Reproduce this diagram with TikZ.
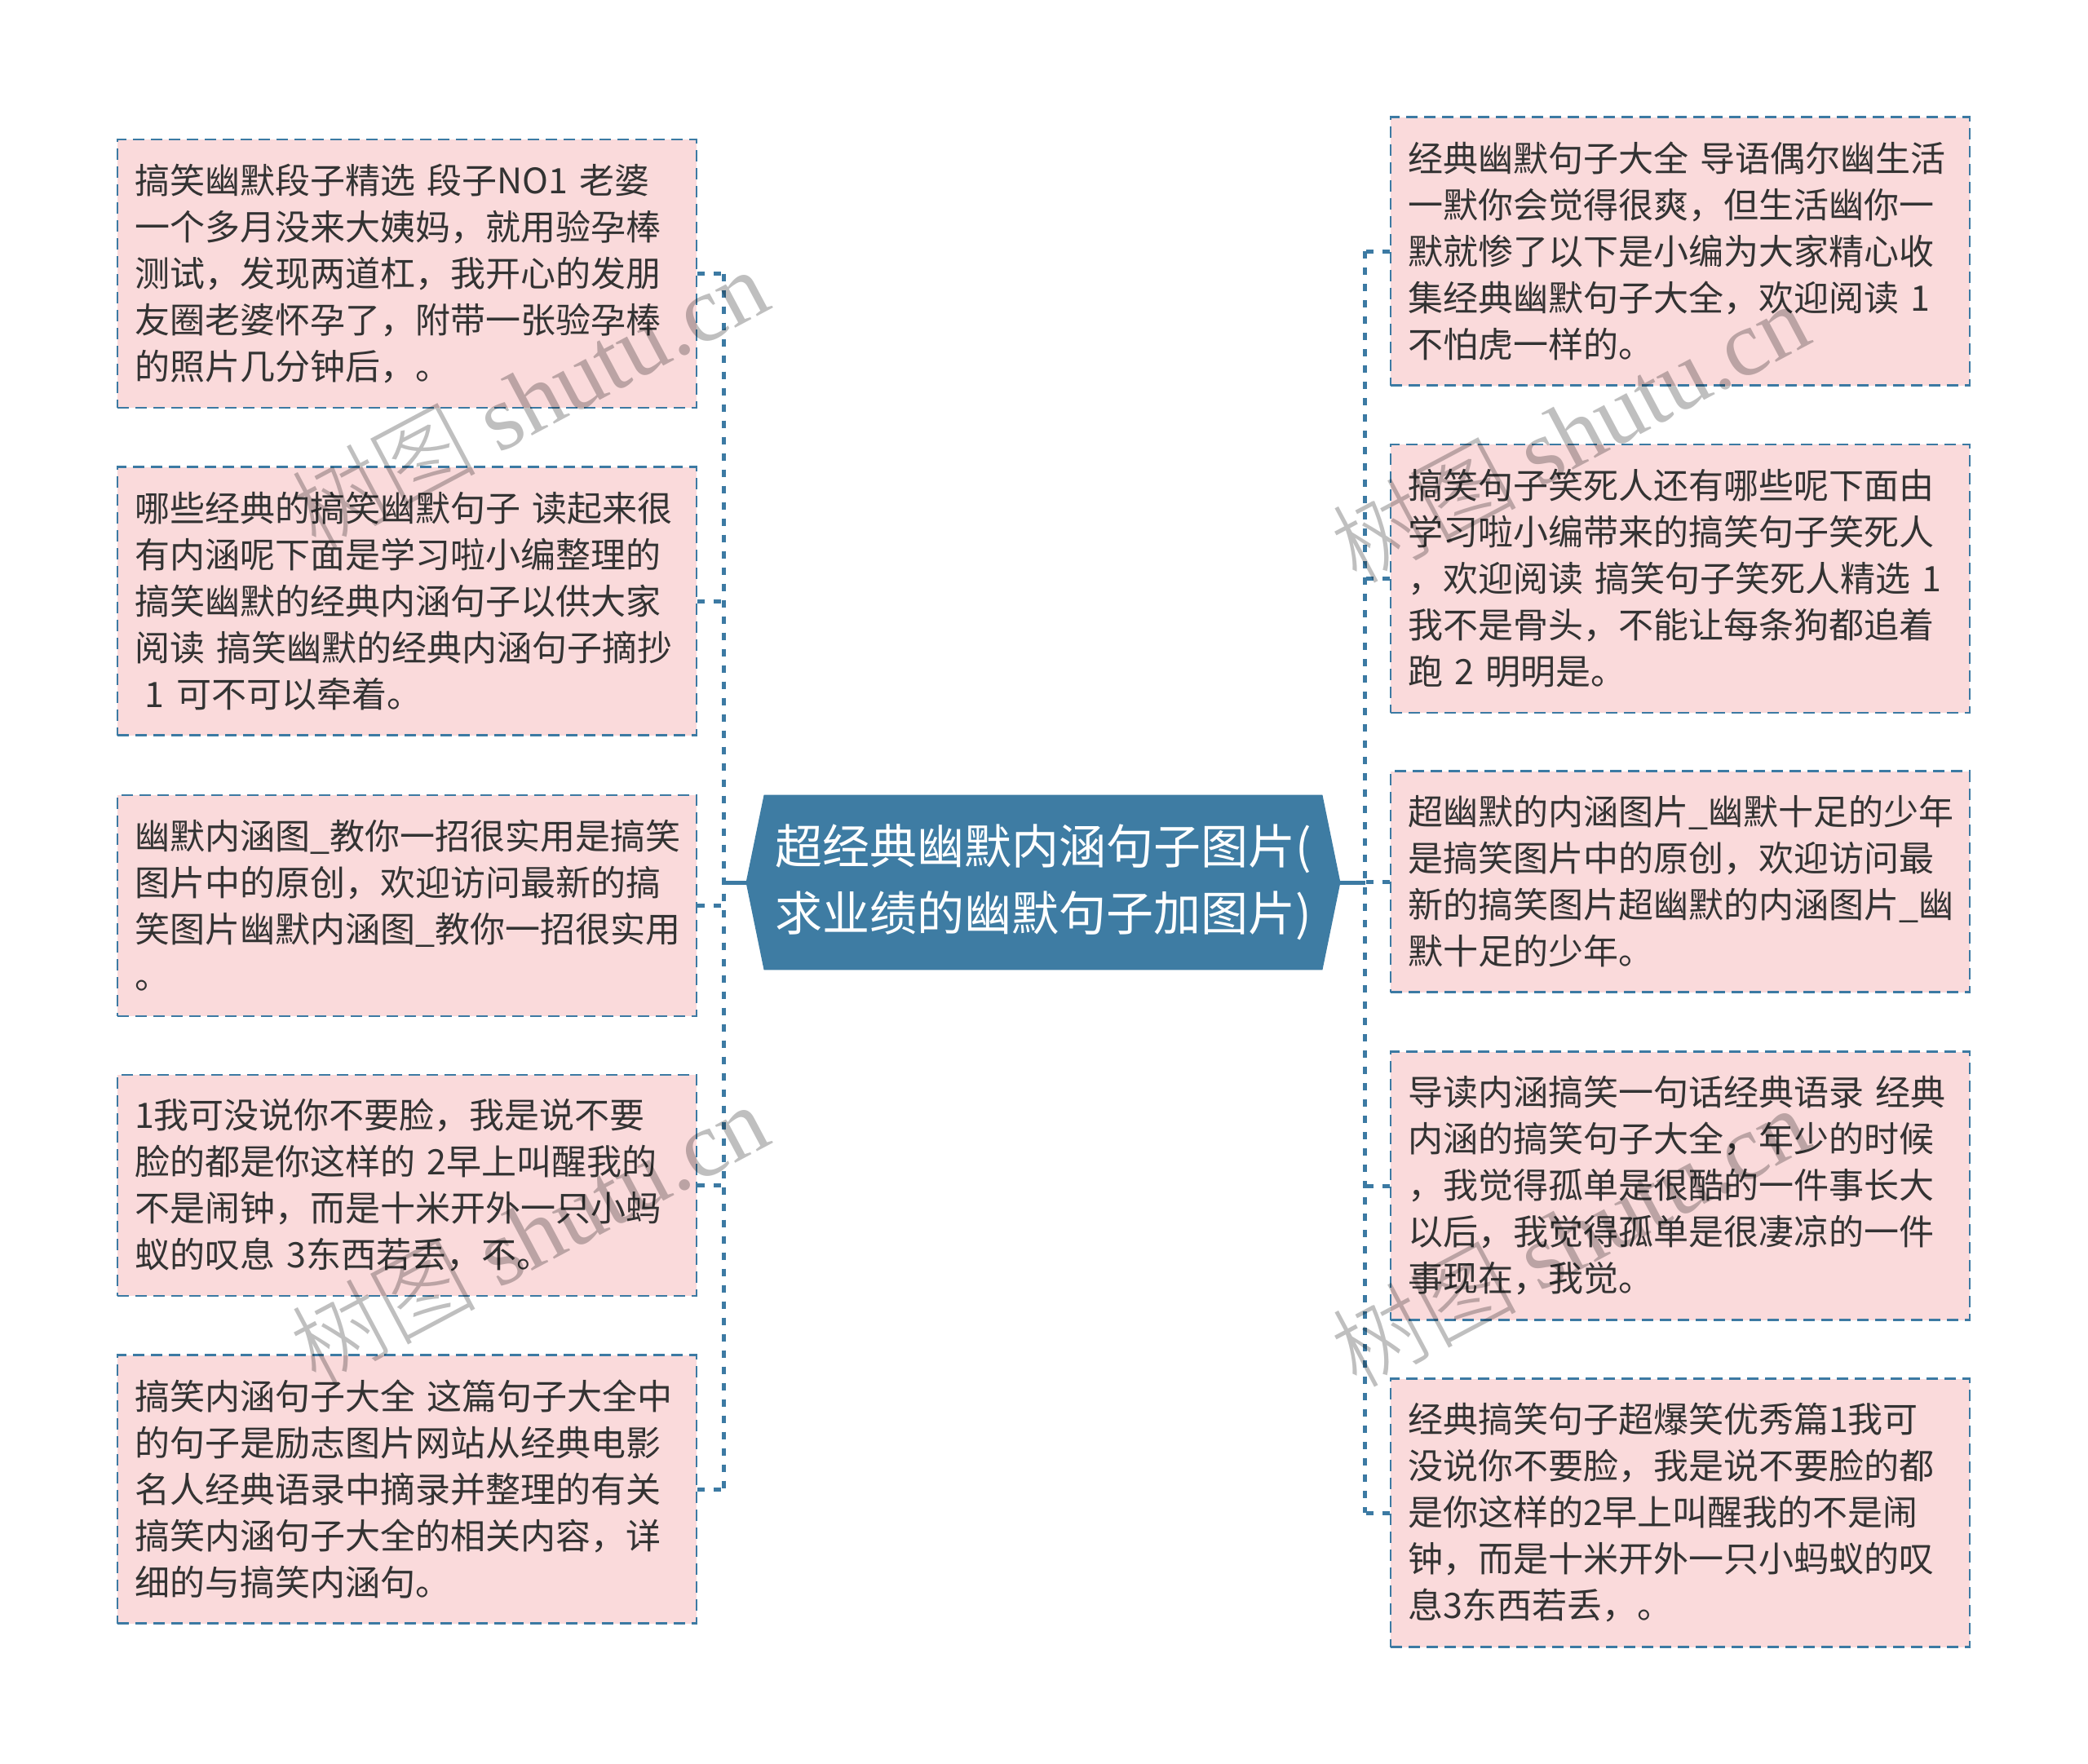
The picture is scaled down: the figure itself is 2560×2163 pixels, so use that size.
\documentclass[tikz,border=0pt]{standalone}
\usepackage{fontspec}
\setmainfont{Noto Sans CJK SC}
\newfontfamily\wmlatin{Liberation Serif}
\newfontfamily\wmcjk{Noto Sans CJK SC Light}
\usetikzlibrary{backgrounds}
\definecolor{boxfill}{RGB}{250,218,219}
\definecolor{lineblue}{RGB}{60,122,163}
\definecolor{centerblue}{RGB}{62,124,163}
\definecolor{txtgray}{RGB}{51,51,51}
\tikzset{
  leaf/.style={rectangle, fill=boxfill, draw=lineblue, line width=1.2pt,
    dash pattern=on 7pt off 4pt, text=txtgray,
    font=\fontsize{21.5pt}{28.5pt}\selectfont, align=left,
    text width=334pt, inner xsep=10.5pt, inner ysep=0pt,
    minimum width=355pt, anchor=center},
  leafv/.style={leaf, minimum height=164.5pt},
  leafiv/.style={leaf, minimum height=135.5pt},
  centernode/.style={rectangle, inner sep=0pt, text=white, align=center,
    font=\fontsize{29pt}{40.8pt}\selectfont,
    minimum width=342pt, minimum height=107pt},
  conn/.style={draw=lineblue, line width=2.5pt, dash pattern=on 4.5pt off 5.5pt},
  stubline/.style={draw=lineblue, line width=2.5pt},
  wmtext/.style={text=black, text opacity=0.25, inner sep=0pt,
    font=\fontsize{57pt}{60pt}\selectfont}
}
\begin{document}
\begin{tikzpicture}[x=0.5pt,y=-0.5pt]
\useasboundingbox (0,0) rectangle (2560,2163);

% center
\node[centernode] (c) at (1279,1082) {超经典幽默内涵句子图片(\\求业绩的幽默句子加图片)};

% left leaves
\node[leafv]  (L1) at (499,335.5) {搞笑幽默段子精选~段子NO1~老婆\\一个多月没来大姨妈，就用验孕棒\\测试，发现两道杠，我开心的发朋\\友圈老婆怀孕了，附带一张验孕棒\\的照片几分钟后，。};
\node[leafv]  (L2) at (499,737) {哪些经典的搞笑幽默句子~读起来很\\有内涵呢下面是学习啦小编整理的\\搞笑幽默的经典内涵句子以供大家\\阅读~搞笑幽默的经典内涵句子摘抄\\\hspace*{0.3em}1~可不可以牵着。};
\node[leafiv] (L3) at (499,1110.5) {幽默内涵图\_教你一招很实用是搞笑\\图片中的原创，欢迎访问最新的搞\\笑图片幽默内涵图\_教你一招很实用\\。};
\node[leafiv] (L4) at (499,1453.5) {1我可没说你不要脸，我是说不要\\脸的都是你这样的~2早上叫醒我的\\不是闹钟，而是十米开外一只小蚂\\蚁的叹息~3东西若丢，不。};
\node[leafv]  (L5) at (499,1826) {搞笑内涵句子大全~这篇句子大全中\\的句子是励志图片网站从经典电影\\名人经典语录中摘录并整理的有关\\搞笑内涵句子大全的相关内容，详\\细的与搞笑内涵句。};

% right leaves
\node[leafv]  (R1) at (2060,308) {经典幽默句子大全~导语偶尔幽生活\\一默你会觉得很爽，但生活幽你一\\默就惨了以下是小编为大家精心收\\集经典幽默句子大全，欢迎阅读~1\\不怕虎一样的。};
\node[leafv]  (R2) at (2060,709.5) {搞笑句子笑死人还有哪些呢下面由\\学习啦小编带来的搞笑句子笑死人\\，欢迎阅读~搞笑句子笑死人精选~1\\我不是骨头，不能让每条狗都追着\\跑~2~明明是。};
\node[leafiv] (R3) at (2060,1081) {超幽默的内涵图片\_幽默十足的少年\\是搞笑图片中的原创，欢迎访问最\\新的搞笑图片超幽默的内涵图片\_幽\\默十足的少年。};
\node[leafv]  (R4) at (2060,1454) {导读内涵搞笑一句话经典语录~经典\\内涵的搞笑句子大全，年少的时候\\，我觉得孤单是很酷的一件事长大\\以后，我觉得孤单是很凄凉的一件\\事现在，我觉。};
\node[leafv]  (R5) at (2060,1855) {经典搞笑句子超爆笑优秀篇1我可\\没说你不要脸，我是说不要脸的都\\是你这样的2早上叫醒我的不是闹\\钟，而是十米开外一只小蚂蚁的叹\\息3东西若丢，。};

\coordinate (jl) at (887,1082);
\coordinate (jr) at (1673.5,1082);

\begin{scope}[on background layer]
  \fill[white] (0,0) rectangle (2560,2163);
  \fill[centerblue] (c.north west) -- (c.north east) -- ([xshift=11pt]c.east)
     -- (c.south east) -- (c.south west) -- ([xshift=-11pt]c.west) -- cycle;
  % left connectors
  \draw[stubline] ([xshift=-11pt]c.west) -- (jl);
  \draw[conn] (L1.east -| jl) -- (L5.east -| jl);
  \foreach \n in {L1,L2,L3,L4,L5} {\draw[conn] (\n.east) -- (\n.east -| jl);}
  % right connectors
  \draw[stubline] ([xshift=11pt]c.east) -- (jr);
  \draw[conn] (R1.west -| jr) -- (R5.west -| jr);
  \foreach \n in {R1,R2,R3,R4,R5} {\draw[conn] (\n.west) -- (\n.west -| jr);}
\end{scope}

% watermarks
\node[wmtext, rotate=28] (w1) at (648,488) {{\wmcjk 树图}~{\wmlatin shutu.cn}};
\node[wmtext, rotate=28] (w2) at (648,1512) {{\wmcjk 树图}~{\wmlatin shutu.cn}};
\node[wmtext, rotate=28] (w3) at (1924,530) {{\wmcjk 树图}~{\wmlatin shutu.cn}};
\node[wmtext, rotate=28] (w4) at (1924,1516) {{\wmcjk 树图}~{\wmlatin shutu.cn}};
\end{tikzpicture}
\end{document}
